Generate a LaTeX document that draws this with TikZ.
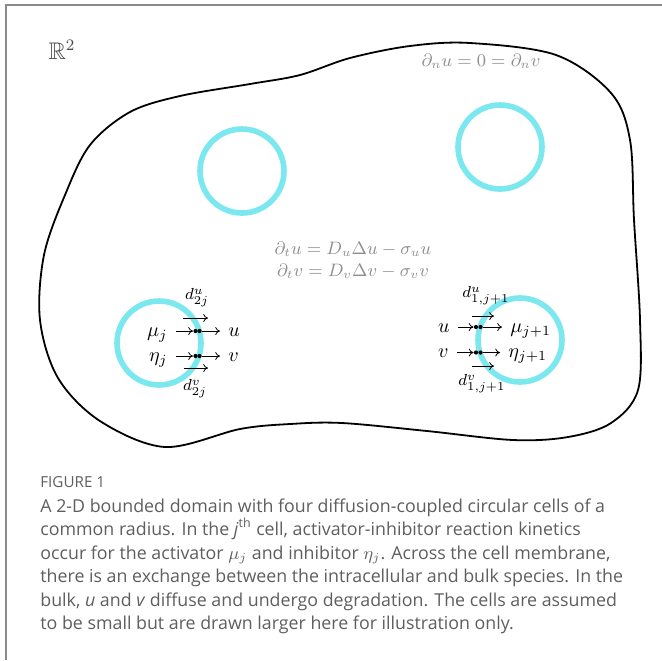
\documentclass[tikz,border=0pt]{standalone}
\usepackage{amsmath,amssymb}
\usepackage{fontspec}
\setsansfont{Open Sans}
\usetikzlibrary{arrows.meta, positioning}
\definecolor{cyanring}{HTML}{7BE8F0}
\definecolor{soft}{HTML}{8E8E8E}
\definecolor{rim}{HTML}{8A8A8A}
\definecolor{captgray}{HTML}{5E5E5E}
\definecolor{dark}{HTML}{4A4A4A}

\begin{document}
\begin{tikzpicture}[x=0.5pt, y=-0.5pt,
  ring/.style={circle, draw=cyanring, line width=2.8pt, minimum size=42pt, inner sep=0pt},
  lab/.style={inner xsep=4pt, inner ysep=1pt},
  dl/.style={inner sep=0pt, font=\footnotesize},
  md/.style={circle, fill=black, inner sep=0pt, minimum size=2.1pt},
  a/.style={-{To[length=2.4pt,width=4pt]}, line width=0.4pt},
  eq/.style={text=soft, font=\small, align=center, inner sep=0pt}]
\useasboundingbox (0,0) rectangle (662,660);
\draw[rim, line width=0.9pt] (662,5) -- (6,5) -- (6,660);
\node[text=dark, font=\large] (plane) at (62,50) {$\mathbb{R}^2$};
\draw[line width=0.9pt] plot[smooth cycle, tension=0.55] coordinates {
  (470,43) (556,55) (611,93) (630,140) (634,220) (640,320) (638,390)
  (611,423) (568,437) (513,440) (427,431) (342,423) (290,424) (240,429)
  (165,447) (100,421) (58,378) (40,320) (44,255) (65,195)
  (90,145) (130,112) (180,96) (250,84) (300,75) (350,58) (410,46)};
\node[eq] (bc) at (481,61) {$\partial_n u = 0 = \partial_n v$};
\node[eq] (pde) at (353,260) {$\partial_t u = D_u\Delta u - \sigma_u u$\\$\partial_t v = D_v\Delta v - \sigma_v v$};
\node[ring] (cella) at (242,171) {};
\node[ring] (cellb) at (500,147) {};
\node[ring] (cellj) at (159,343) {};
\node[ring] (celljp) at (520,340) {};
\node[md] (p1) at (195.5,331) {};
\node[md] (p2) at (199.5,331) {};
\node[md] (p3) at (195.5,356) {};
\node[md] (p4) at (199.5,356) {};
\node[lab, anchor=base east] (muj) at (176,336) {$\mu_j$};
\node[lab, anchor=base west] (uout) at (220,336) {$u$};
\node[lab, anchor=base east] (etaj) at (176,361) {$\eta_j$};
\node[lab, anchor=base west] (vout) at (220,361) {$v$};
\draw[a] (muj.east |- p1) -- (p1);
\draw[a] (p2) -- (uout.west |- p2);
\draw[a] (etaj.east |- p3) -- (p3);
\draw[a] (p4) -- (vout.west |- p4);
\coordinate (o1) at (183,318);
\coordinate (o2) at (208,318);
\coordinate (o3) at (184,368);
\coordinate (o4) at (208,368);
\draw[a] (o1) -- (o2);
\draw[a] (o3) -- (o4);
\node[dl] (duj) at (197,298) {$d^u_{2j}$};
\node[dl] (dvj) at (195,389) {$d^v_{2j}$};
\node[md] (q1) at (476,327) {};
\node[md] (q2) at (480.5,327) {};
\node[md] (q3) at (476,352.5) {};
\node[md] (q4) at (480.5,352.5) {};
\node[lab, anchor=base east] (uin) at (458,332) {$u$};
\node[lab, anchor=base west] (mujp) at (502,332) {$\mu_{j+1}$};
\node[lab, anchor=base east] (vin) at (457,357.5) {$v$};
\node[lab, anchor=base west] (etajp) at (500,357.5) {$\eta_{j+1}$};
\draw[a] (uin.east |- q1) -- (q1);
\draw[a] (q2) -- (mujp.west |- q2);
\draw[a] (vin.east |- q3) -- (q3);
\draw[a] (q4) -- (etajp.west |- q4);
\coordinate (r1) at (472,316);
\coordinate (r2) at (494,316);
\coordinate (r3) at (472,366);
\coordinate (r4) at (494,366);
\draw[a] (r1) -- (r2);
\draw[a] (r3) -- (r4);
\node[dl] (dujp) at (486,296) {$d^u_{1,j+1}$};
\node[dl] (dvjp) at (482,384) {$d^v_{1,j+1}$};
\node[font=\sffamily\fontsize{7.6}{9}\selectfont, text=captgray, anchor=base west, inner sep=0pt] (fig) at (40,487) {FIGURE 1};
\node[font=\sffamily\fontsize{8.9}{11.75}\selectfont, text=captgray, align=left, anchor=north west, inner sep=0pt] (capt) at (40,498) {A 2-D bounded domain with four diffusion-coupled circular cells of a\\
common radius. In the \textit{j}\textsuperscript{th} cell, activator-inhibitor reaction kinetics\\
occur for the activator $\mu_j$ and inhibitor $\eta_j$. Across the cell membrane,\\
there is an exchange between the intracellular and bulk species. In the\\
bulk, \textit{u} and \textit{v} diffuse and undergo degradation. The cells are assumed\\
to be small but are drawn larger here for illustration only.};
\end{tikzpicture}
\end{document}
